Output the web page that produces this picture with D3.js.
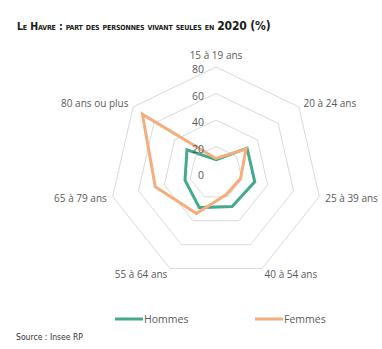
<!DOCTYPE html>
<html><head><meta charset="utf-8">
<script src="https://cdn.jsdelivr.net/npm/d3@7"></script>
<style>body{margin:0;background:#fff}svg{display:block}</style>
</head><body>
<svg id="c" width="382" height="349"></svg>
<script>
const categories = ["15 à 19 ans","20 à 24 ans","25 à 39 ans","40 à 54 ans","55 à 64 ans","65 à 79 ans","80 ans ou plus"];
const hommes = [10, 30, 30, 28, 29, 24, 28];
const femmes = [11, 29, 19, 18, 34, 47, 71];
const ticks = [0, 20, 40, 60, 80];

const svg = d3.select("#c");
const cx = 216, cy = 173, R = 106;
const r = d3.scaleLinear().domain([0, 80]).range([0, R]);
const n = categories.length;
const ang = d3.scaleLinear().domain([0, n]).range([0, 2 * Math.PI]);
const pt = (i, v) => [cx + r(v) * Math.sin(ang(i)), cy - r(v) * Math.cos(ang(i))];

// grid rings
ticks.filter(t => t > 0).forEach(t => {
  svg.append("path")
    .attr("d", d3.line()(d3.range(n).map(i => pt(i, t))) + "Z")
    .attr("fill", "none").attr("stroke", "#d9d9d9").attr("stroke-width", 1);
});

// series
const line = d3.line().curve(d3.curveLinearClosed);
[[hommes, "#45a98c"], [femmes, "#f4ad7c"]].forEach(([d, c]) => {
  svg.append("path")
    .attr("d", line(d.map((v, i) => pt(i, v))))
    .attr("fill", "none").attr("stroke", c).attr("stroke-width", 3).attr("stroke-linejoin", "miter");
});

// tick labels
svg.selectAll(".tk").data(ticks).join("text")
  .attr("x", cx - 12).attr("y", t => cy - r(t) + 6)
  .attr("text-anchor", "end")
  .attr("font-family", "Open Sans, sans-serif").attr("font-size", 10.5)
  .attr("fill", "#595959").text(t => t);

// category labels
categories.forEach((c, i) => {
  const a = ang(i), s = Math.sin(a), co = Math.cos(a);
  let x = cx + (R + 6) * s, y = cy - (R + 6) * co;
  let anchor = Math.abs(s) < 0.1 ? "middle" : (s > 0 ? "start" : "end");
  if (i === 0) y = cy - R - 12;
  if (i === 3 || i === 4) y = cy + R * 0.901 + 5;
  svg.append("text").attr("x", x).attr("y", y + 4)
    .attr("text-anchor", anchor)
    .attr("font-family", "Open Sans, sans-serif").attr("font-size", 10)
    .attr("fill", "#595959").text(c);
});

// legend
const leg = [["Hommes", "#45a98c", 115], ["Femmes", "#f4ad7c", 255]];
leg.forEach(([t, c, x]) => {
  svg.append("line").attr("x1", x).attr("x2", x + 28).attr("y1", 319).attr("y2", 319)
    .attr("stroke", c).attr("stroke-width", 3);
  svg.append("text").attr("x", x + 29).attr("y", 323)
    .attr("font-family", "Open Sans, sans-serif").attr("font-size", 10.5)
    .attr("fill", "#595959").text(t);
});

// title
const tf = "Liberation Sans Narrow, DejaVu Sans Condensed, sans-serif";
const title = svg.append("text").attr("x", 17).attr("y", 30)
  .attr("font-family", tf).attr("font-weight", "bold").attr("fill", "#1a1a1a")
  .attr("letter-spacing", -0.15);
title.append("tspan").attr("font-size", 10.5).attr("font-variant", "small-caps")
  .text("Le Havre : part des personnes vivant seules en ");
title.append("tspan").attr("font-size", 12).text("2020 (%)");

// source
svg.append("text").attr("x", 16).attr("y", 340)
  .attr("font-family", tf).attr("font-size", 9).attr("fill", "#333")
  .attr("textLength", 67).attr("lengthAdjust", "spacingAndGlyphs")
  .text("Source : Insee RP");
</script>
</body></html>
